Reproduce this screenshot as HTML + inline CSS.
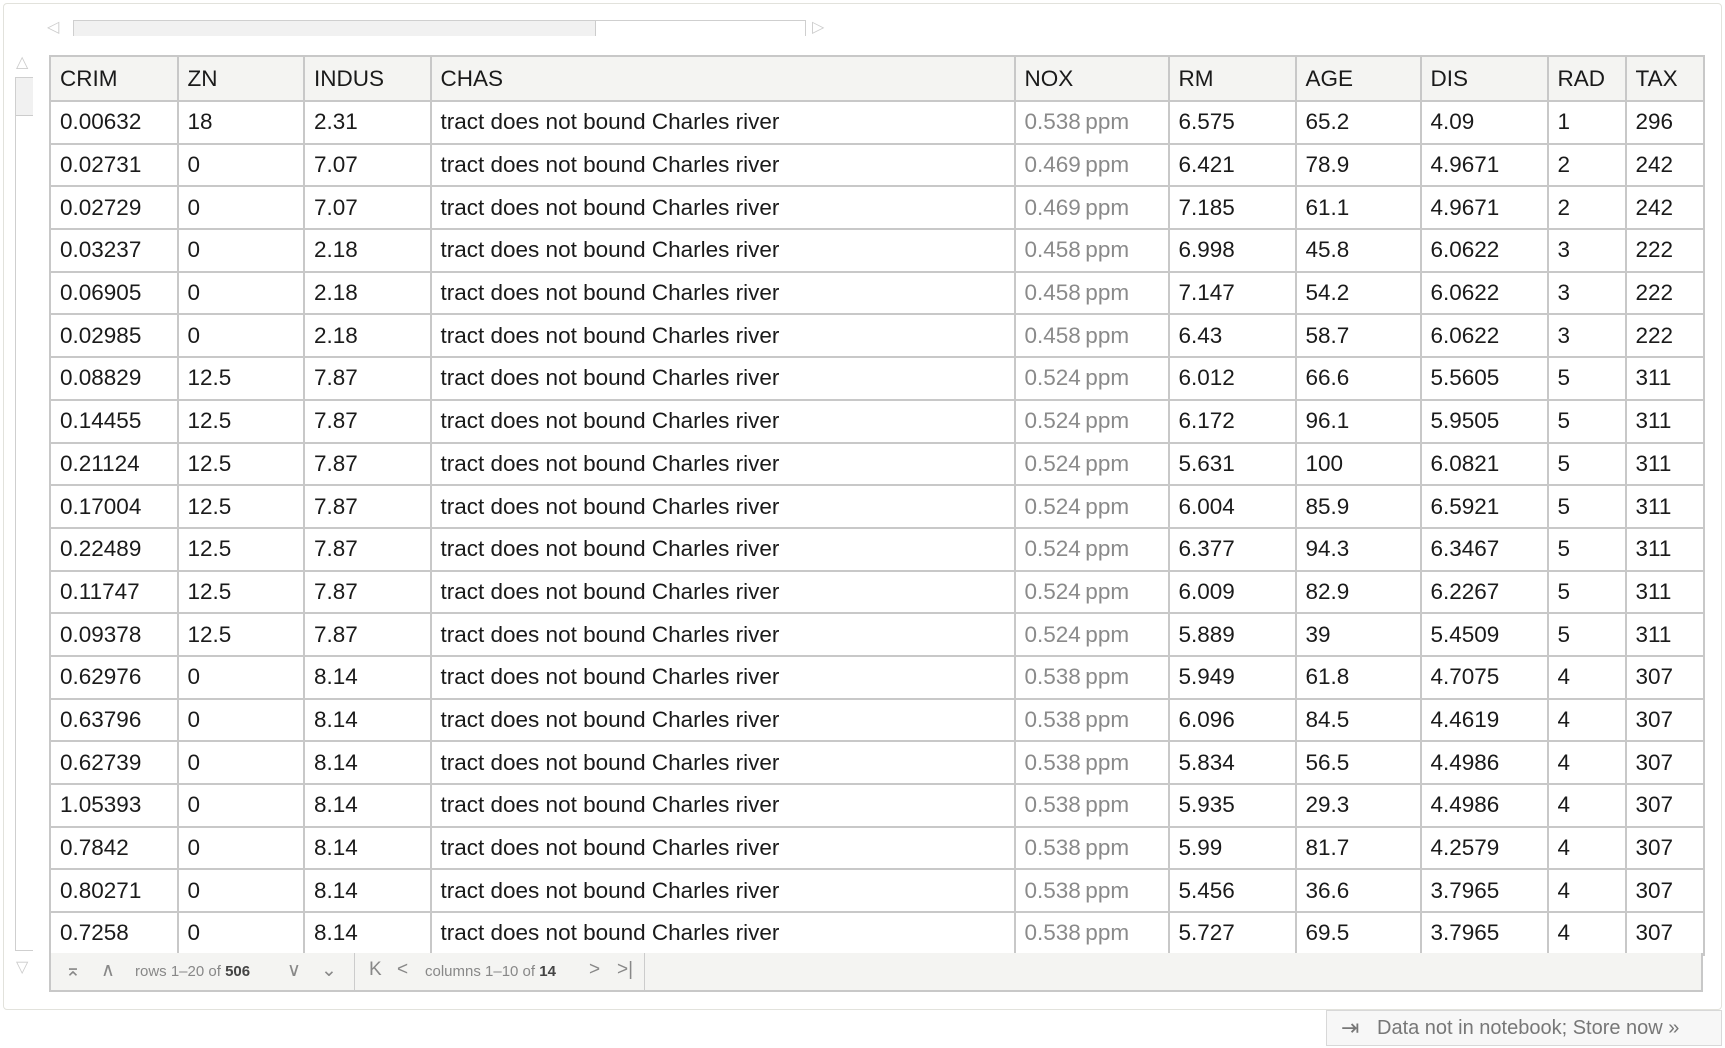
<!DOCTYPE html>
<html><head><meta charset="utf-8">
<style>
*{box-sizing:border-box;margin:0;padding:0}
body{width:1725px;height:1048px;background:#fff;font-family:"Liberation Sans",sans-serif;position:relative;overflow:hidden;color:#1a1a1a}
#frame{position:absolute;left:3px;top:3px;width:1719px;height:1007px;border:1px solid #e2e2dc;border-radius:4px}
#hscroll{position:absolute;left:73px;top:20px;width:733px;height:16px;border:1px solid #cfcfcf;border-bottom:none;background:#fff}
#hthumb{position:absolute;left:0;top:0;width:522px;height:15px;background:#f1f1f1;border-right:1px solid #ccc}
.arrow{position:absolute;color:#ccc;font-size:16px}
#vscroll{position:absolute;left:15px;top:77px;width:18px;height:874px;border:1px solid #cfcfcf;border-right:none;background:#fff}
#vthumb{position:absolute;left:0;top:0;width:17px;height:38px;background:#f1f1f1;border-bottom:1px solid #ccc}
#tbl{position:absolute;left:49px;top:55px;border-collapse:collapse;font-size:22.5px;table-layout:fixed;border:2px solid #c4c4c4}
#tbl td,#tbl th{border:2px solid #c8c8c8;height:42.7px;padding:0 0 0 9px;text-align:left;font-weight:normal;white-space:nowrap;overflow:hidden}
#tbl th{background:#f4f4f2;height:45px}
#tbl td.nox{color:#8a8a8a}
#footer{position:absolute;left:49px;top:953px;width:1654px;height:39px;border:2px solid #c8c8c8;border-top:none;background:#f4f4f2;font-size:15px;color:#888}
#footer span{position:absolute;top:10px}
#store{position:absolute;left:1326px;top:1010px;width:396px;height:36px;border:1px solid #d8d8d8;background:#f7f7f7;font-size:20px;color:#777;padding:6px 0 0 50px}
</style></head><body>
<div id="frame"></div>
<span class="arrow" style="left:47px;top:17px">◁</span>
<div id="hscroll"><div id="hthumb"></div></div>
<span class="arrow" style="left:812px;top:17px">▷</span>
<span class="arrow" style="left:16px;top:52px">△</span>
<div id="vscroll"><div id="vthumb"></div></div>
<span class="arrow" style="left:16px;top:957px">▽</span>
<table id="tbl"></table>
<div id="footer">
<span style="left:14px;font-size:19px;top:6px">⌅</span>
<span style="left:50px;font-size:19px;top:6px">∧</span>
<span style="left:84px">rows 1–20 of <b style="color:#444">506</b></span>
<span style="left:236px;font-size:19px;top:6px">∨</span>
<span style="left:270px;font-size:19px;top:6px">⌄</span>
<span style="left:303px;top:0;width:1px;height:37px;background:#ccc"></span>
<span style="left:318px;font-size:19px;top:6px">K</span>
<span style="left:346px;font-size:19px;top:6px">&lt;</span>
<span style="left:374px">columns 1–10 of <b style="color:#444">14</b></span>
<span style="left:538px;font-size:19px;top:6px">&gt;</span>
<span style="left:566px;font-size:19px;top:6px">&gt;|</span>
<span style="left:593px;top:0;width:1px;height:37px;background:#ccc"></span>
</div>
<div id="store"><span style="position:absolute;left:14px;top:4px;font-size:22px">⇥</span>Data not in notebook; Store now »</div>
<script>
const headers=["CRIM","ZN","INDUS","CHAS","NOX","RM","AGE","DIS","RAD","TAX"];
const widths=[127.5,126.5,126.5,584,154,127,125,127,78,78];
const crim=["0.00632","0.02731","0.02729","0.03237","0.06905","0.02985","0.08829","0.14455","0.21124","0.17004","0.22489","0.11747","0.09378","0.62976","0.63796","0.62739","1.05393","0.7842","0.80271","0.7258"];
const zn=["18","0","0","0","0","0","12.5","12.5","12.5","12.5","12.5","12.5","12.5","0","0","0","0","0","0","0"];
const indus=["2.31","7.07","7.07","2.18","2.18","2.18","7.87","7.87","7.87","7.87","7.87","7.87","7.87","8.14","8.14","8.14","8.14","8.14","8.14","8.14"];
const nox=["0.538","0.469","0.469","0.458","0.458","0.458","0.524","0.524","0.524","0.524","0.524","0.524","0.524","0.538","0.538","0.538","0.538","0.538","0.538","0.538"];
const rm=["6.575","6.421","7.185","6.998","7.147","6.43","6.012","6.172","5.631","6.004","6.377","6.009","5.889","5.949","6.096","5.834","5.935","5.99","5.456","5.727"];
const age=["65.2","78.9","61.1","45.8","54.2","58.7","66.6","96.1","100","85.9","94.3","82.9","39","61.8","84.5","56.5","29.3","81.7","36.6","69.5"];
const dis=["4.09","4.9671","4.9671","6.0622","6.0622","6.0622","5.5605","5.9505","6.0821","6.5921","6.3467","6.2267","5.4509","4.7075","4.4619","4.4986","4.4986","4.2579","3.7965","3.7965"];
const rad=["1","2","2","3","3","3","5","5","5","5","5","5","5","4","4","4","4","4","4","4"];
const tax=["296","242","242","222","222","222","311","311","311","311","311","311","311","307","307","307","307","307","307","307"];
const t=document.getElementById('tbl');
const cg=document.createElement('colgroup');
widths.forEach(w=>{const c=document.createElement('col');c.style.width=w+'px';cg.appendChild(c);});
t.appendChild(cg);
const hr=document.createElement('tr');
headers.forEach(h=>{const th=document.createElement('th');th.textContent=h;


hr.appendChild(th);});
t.appendChild(hr);
for(let i=0;i<crim.length;i++){
 const tr=document.createElement('tr');
 
 
 const vals=[crim[i],zn[i],indus[i],"tract does not bound Charles river",nox[i]+"\u2009ppm",rm[i],age[i],dis[i],rad[i],tax[i]];
 vals.forEach((v,j)=>{const td=document.createElement('td');td.textContent=v;if(j===4)td.className='nox';
 
 
 tr.appendChild(td);});
 t.appendChild(tr);
}
</script>
</body></html>
